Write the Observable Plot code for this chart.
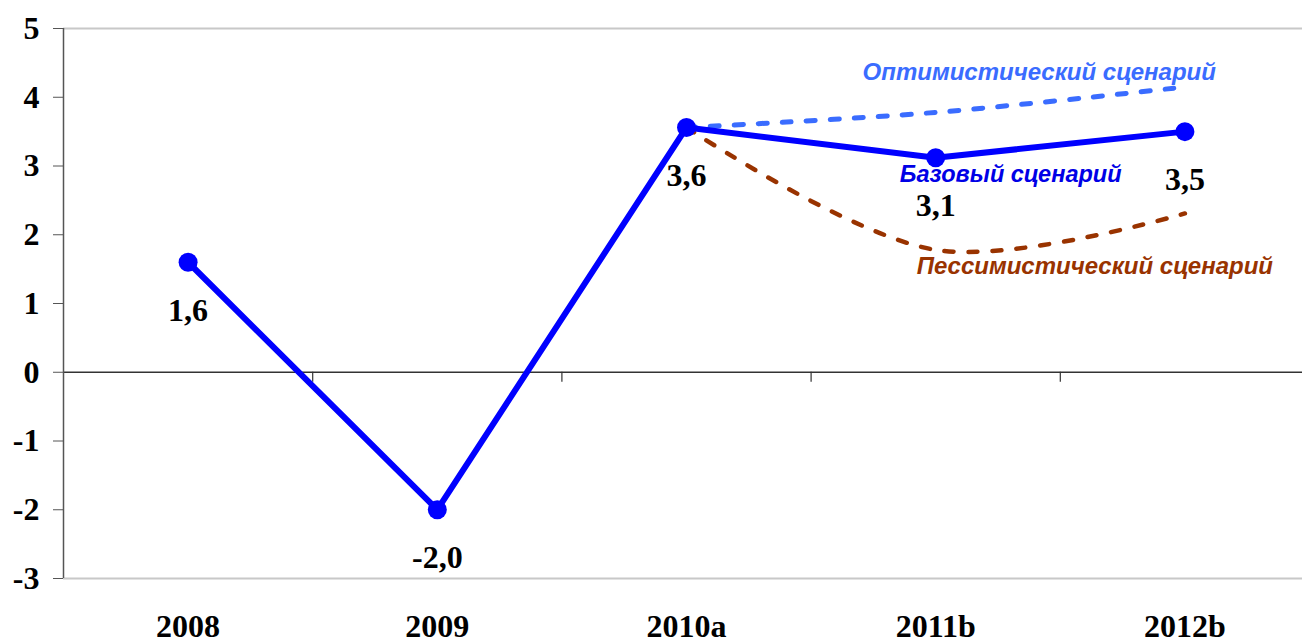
<!DOCTYPE html>
<html>
<head>
<meta charset="utf-8">
<script src="https://cdn.jsdelivr.net/npm/d3@7"></script>
<script src="https://cdn.jsdelivr.net/npm/@observablehq/plot@0.6"></script>
<style>
  html, body { margin: 0; padding: 0; background: #fff; }
  #chart svg { display: block; }
</style>
</head>
<body>
<div id="chart"></div>
<script>
const categories = ["2008", "2009", "2010a", "2011b", "2012b"];
const baseValues = [1.6, -2.0, 3.56, 3.12, 3.5];
const baseLabels = ["1,6", "-2,0", "3,6", "3,1", "3,5"];
const optimisticValues = [null, null, 3.56, 3.78, 4.15];
const pessimisticValues = [null, null, 3.56, 1.78, 2.31];
const yTicks = [-3, -2, -1, 0, 1, 2, 3, 4, 5];
const yTickLabels = ["-3", "-2", "-1", "0", "1", "2", "3", "4", "5"];
const boundaries = [0.5, 1.5, 2.5, 3.5];
const scenarioNames = {
  optimistic: "Оптимистический сценарий",
  base: "Базовый сценарий",
  pessimistic: "Пессимистический сценарий"
};

const base = categories.map((c, i) => ({i, c, v: baseValues[i], label: baseLabels[i]}));
const opt = categories.map((c, i) => ({i, v: optimisticValues[i]})).filter(d => d.v != null);
const pes = categories.map((c, i) => ({i, v: pessimisticValues[i]})).filter(d => d.v != null);

const serif = "'Liberation Serif', 'Times New Roman', serif";
const sans = "'Liberation Sans', Arial, sans-serif";

const chart = Plot.plot({
  width: 1302,
  height: 642,
  marginTop: 28,
  marginBottom: 64,
  marginLeft: 63,
  marginRight: 0,
  style: {fontFamily: serif, background: "#fff", overflow: "visible"},
  x: {type: "linear", domain: [-0.5, 4.5], range: [63, 1309]},
  y: {domain: [-3, 5]},
  marks: [
    Plot.ruleY([5, -3], {stroke: "#c8c8c8", strokeWidth: 2, x1: -0.5, x2: 4.5}),
    Plot.ruleY([0], {stroke: "#333", strokeWidth: 1.5, x1: -0.5, x2: 4.5}),
    Plot.ruleX(boundaries, {y1: 0, y2: 0, insetBottom: -10, stroke: "#333", strokeWidth: 1.2}),
    Plot.ruleX([-0.5], {y1: -3, y2: 5, stroke: "#555", strokeWidth: 1.5}),
    Plot.axisY({
      ticks: yTicks, tickFormat: v => yTickLabels[yTicks.indexOf(v)],
      tickSize: 10, tickPadding: 14, stroke: "#555",
      fontSize: 32, fontWeight: "bold", fontFamily: serif, fill: "#000", label: null
    }),
    Plot.axisX({
      ticks: categories.map((c, i) => i), tickFormat: i => categories[i],
      tickSize: 0, tickPadding: 36, fontSize: 32, fontWeight: "bold", fontFamily: serif, fill: "#000", label: null
    }),
    Plot.line(opt, {x: "i", y: "v", curve: "catmull-rom", stroke: "#3a6cff", strokeWidth: 5, strokeDasharray: "9,15"}),
    Plot.line(pes, {x: "i", y: "v", curve: "catmull-rom", stroke: "#993300", strokeWidth: 4.5, strokeDasharray: "9,15"}),
    Plot.line(base, {x: "i", y: "v", stroke: "#0000ff", strokeWidth: 6}),
    Plot.dot(base, {x: "i", y: "v", r: 9.5, fill: "#0000ff", stroke: "none"}),
    Plot.text(base, {x: "i", y: "v", text: "label", dy: 48, fontSize: 32, fontWeight: "bold", fontFamily: serif, fill: "#000"}),
    Plot.text([opt[opt.length - 1]], {x: "i", y: "v", text: () => scenarioNames.optimistic, textAnchor: "end", dx: 31, dy: -15,
      fontSize: 24, fontWeight: "bold", fontStyle: "italic", fontFamily: sans, fill: "#3a6cff"}),
    Plot.text([base[3]], {x: "i", y: "v", text: () => scenarioNames.base, textAnchor: "middle", dx: 75, dy: 17,
      fontSize: 23.5, fontWeight: "bold", fontStyle: "italic", fontFamily: sans, fill: "#0000e6"}),
    Plot.text([pes[1]], {x: "i", y: "v", text: () => scenarioNames.pessimistic, textAnchor: "start", dx: -19, dy: 16,
      fontSize: 24, fontWeight: "bold", fontStyle: "italic", fontFamily: sans, fill: "#993300"})
  ]
});
document.getElementById("chart").appendChild(chart);
</script>
</body>
</html>
